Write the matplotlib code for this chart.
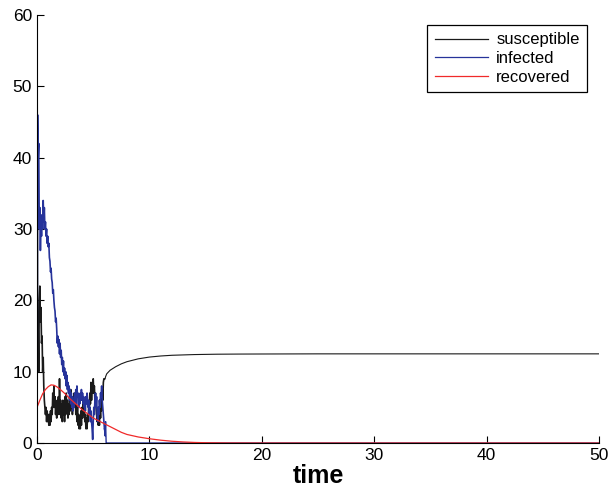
import numpy as np
import matplotlib.pyplot as plt

plt.rcParams['font.family'] = ['Liberation Sans', 'DejaVu Sans']

# noisy part of the run, sampled every 0.05 time units
t_noisy = np.round(np.arange(0, 6.05, 0.05), 2)

susceptible_noisy = [
    60, 12, 16, 10, 20, 22, 17, 19, 14, 15,
    10, 12, 8, 6, 5, 4, 5, 3, 4.5, 3,
    4, 2.5, 4, 2.5, 4.5, 3, 5, 4, 7, 5,
    8, 5, 6.5, 4, 5.5, 3.5, 6, 4.5, 6.5, 4,
    9, 5, 6, 3.5, 5.5, 3, 6, 4, 5.5, 3,
    6.5, 4, 7, 4.5, 6, 3.5, 5.5, 4, 6.5, 4.5,
    7.5, 5, 6, 4, 6.5, 5, 7, 5, 6.5, 4,
    5.5, 3, 5, 2.5, 4, 2, 3.5, 2, 4.5, 2.5,
    5, 3.5, 6, 4, 5.5, 3, 4, 2, 3.5, 2,
    4, 3, 5.5, 4, 7, 5.5, 8.5, 6, 8, 7,
    9, 7, 8, 6, 7, 5, 4, 3, 4.5, 2.5,
    4, 2.5, 5, 3.5, 6, 4.5, 7.5, 6, 8.5, 9,
    9,
]

infected_noisy = [
    0, 46, 40, 42, 30, 33, 27, 31, 29, 32,
    30, 34, 31, 33, 30, 31, 29, 30, 28, 29,
    27.5, 28, 26, 25.5, 24, 24.5, 23, 22.5, 21, 21.5,
    20, 19, 18.5, 17, 17.5, 16, 14, 15, 13.5, 14.5,
    12.5, 14, 12, 13, 11, 12, 10, 11.5, 9.5, 10.5,
    9, 10, 8, 9.5, 7.5, 8.5, 7, 8, 6, 7.5,
    5.5, 7, 5, 6.5, 4.5, 6, 5, 7, 6, 7.5,
    5.5, 8, 6.5, 7, 5, 6.5, 5.5, 7, 6, 7.5,
    6, 7, 5.5, 6.5, 5, 6, 4.5, 6.5, 5.5, 7,
    6, 5, 6, 4, 5, 3, 4.5, 3, 2, 0.5,
    3, 5, 4, 6, 7, 5, 6.5, 4, 3, 5,
    4, 6, 5, 7, 6.5, 8, 6, 5, 4, 3,
    2,
]

# after the infection dies out
t_late = [6.0, 6.05, 6.1, 6.15, 6.2, 6.5, 7, 7.5, 8, 9, 10, 11, 12, 14, 16, 18, 20, 25, 30, 40, 50]
susceptible_late = [9, 9, 9.3, 9.5, 9.7, 10.2, 10.7, 11.1, 11.4, 11.8, 12.05, 12.2, 12.3, 12.4, 12.45, 12.47, 12.48, 12.5, 12.5, 12.5, 12.5]
infected_late = [2, 1, 3, 0, 0, 0, 0, 0, 0, 0, 0, 0, 0, 0, 0, 0, 0, 0, 0, 0, 0]

# recovered (smooth mean curve)
t_rec = [0, 0.25, 0.5, 0.75, 1, 1.25, 1.5, 1.75, 2, 2.5, 3, 3.5, 4, 4.5, 5, 5.5, 6,
         6.5, 7, 7.5, 8, 9, 10, 11, 12, 13, 14, 15, 17, 20, 50]
recovered = [5, 6, 6.9, 7.5, 7.9, 8.15, 8.1, 7.9, 7.6, 6.9, 6.1, 5.4, 4.7, 4.1, 3.5, 3.1, 2.7,
             2.3, 1.9, 1.5, 1.2, 0.85, 0.6, 0.4, 0.25, 0.15, 0.08, 0.04, 0.01, 0, 0]

s_col = '#1a1a1a'
i_col = '#26339a'

fig = plt.figure(figsize=(6.09, 4.95), dpi=100)
ax = fig.add_axes([0.0608, 0.105, 0.9228, 0.8647])

# noisy stretch drawn a bit heavier, the smooth tail thin
ax.plot(t_noisy, susceptible_noisy, color=s_col, lw=1.2)
ax.plot(t_late, susceptible_late, color=s_col, lw=0.8, label='susceptible')
ax.plot(t_noisy, infected_noisy, color=i_col, lw=1.2)
ax.plot(t_late, infected_late, color=i_col, lw=1.0, label='infected')
ax.plot(t_rec, recovered, color='#f02a2a', lw=0.9, label='recovered')

ax.set_xlim(0, 50)
ax.set_ylim(0, 60)
ax.set_xticks(range(0, 51, 10))
ax.set_yticks(range(0, 61, 10))
ax.spines['top'].set_visible(False)
ax.spines['right'].set_visible(False)
ax.tick_params(direction='in', length=5, width=0.8, labelsize=12.5)
ax.set_xlabel('time', fontsize=18, fontweight='bold', labelpad=1)

leg = ax.legend(loc='upper right', bbox_to_anchor=(0.979, 0.977), borderaxespad=0,
                fancybox=False, edgecolor='black', framealpha=1, fontsize=12,
                handlelength=3.2, handletextpad=0.5, labelspacing=0.22,
                borderpad=0.45)
leg.get_frame().set_linewidth(0.9)
for line in leg.get_lines():
    line.set_linewidth(0.9)

plt.savefig('out.png', dpi=100)
